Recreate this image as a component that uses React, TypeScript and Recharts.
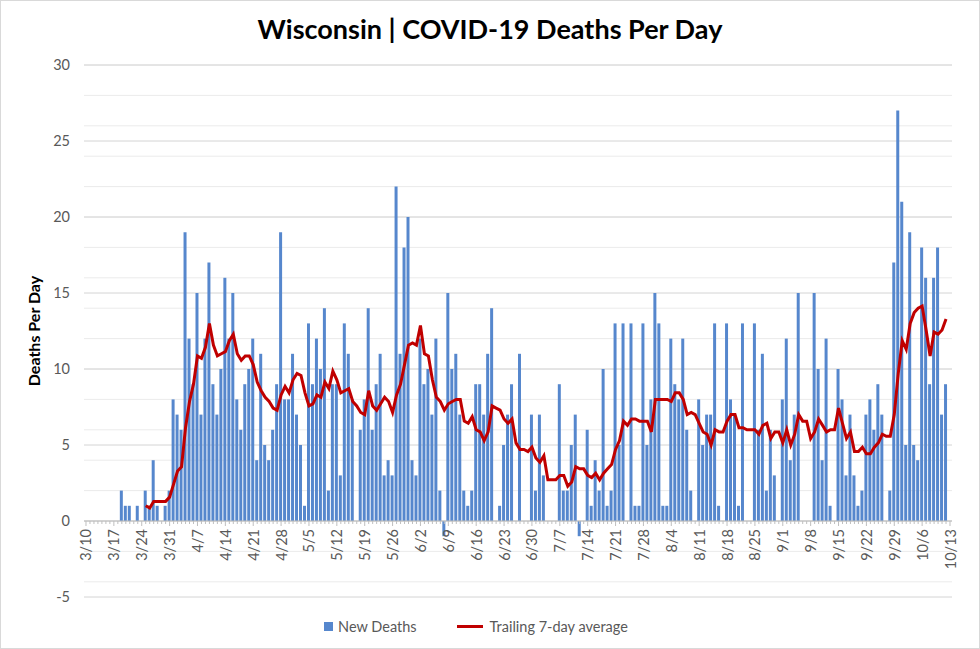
import { ComposedChart, Bar, Line, XAxis, YAxis, CartesianGrid, ReferenceLine, Legend } from 'recharts';

// Wisconsin daily COVID-19 deaths, 3/10 .. 10/13 (one row per week)
const newDeaths = [
  0, 0, 0, 0, 0, 0, 0,
  0, 0, 2, 1, 1, 0, 1,
  0, 2, 1, 4, 1, 0, 1,
  2, 8, 7, 6, 19, 12, 9,
  15, 7, 12, 17, 9, 7, 10,
  16, 12, 15, 8, 6, 9, 10,
  12, 4, 11, 5, 4, 6, 9,
  19, 8, 8, 11, 7, 5, 1,
  13, 9, 12, 10, 14, 2, 9,
  9, 3, 13, 11, 8, 0, 6,
  8, 14, 6, 9, 11, 3, 4,
  3, 22, 11, 18, 20, 4, 3,
  12, 9, 10, 7, 12, 2, -1,
  15, 10, 11, 7, 2, 1, 2,
  9, 9, 7, 11, 14, 0, 1,
  5, 7, 9, 0, 11, 0, 0,
  7, 2, 7, 3, 0, 0, 0,
  9, 2, 2, 5, 7, -1, 0,
  6, 1, 4, 2, 10, 1, 2,
  13, 5, 13, 0, 13, 1, 1,
  13, 5, 8, 15, 13, 1, 1,
  12, 9, 8, 12, 6, 2, 0,
  8, 5, 7, 7, 13, 1, 0,
  13, 8, 7, 1, 13, 0, 0,
  13, 6, 11, 2, 6, 3, 0,
  8, 12, 4, 7, 15, 0, 0,
  0, 15, 10, 4, 12, 1, 0,
  10, 8, 3, 7, 3, 1, 2,
  7, 8, 6, 9, 7, 0, 2,
  17, 27, 21, 5, 19, 5, 4,
  18, 16, 9, 16, 18, 7, 9,
  null,
];

const trailingAvg = [
  null, null, null, null, null, null, null,
  null, null, null, null, null, null, null,
  null, 1.0, 0.86, 1.29, 1.29, 1.29, 1.29,
  1.57, 2.43, 3.29, 3.57, 6.14, 7.86, 9.0,
  10.86, 10.71, 11.43, 13.0, 11.57, 10.86, 11.0,
  11.14, 11.86, 12.29, 11.0, 10.57, 10.86, 10.86,
  10.29, 9.14, 8.57, 8.14, 7.86, 7.43, 7.29,
  8.29, 8.86, 8.43, 9.29, 9.71, 9.57, 8.43,
  7.57, 7.71, 8.29, 8.14, 9.14, 8.71, 9.86,
  9.29, 8.43, 8.57, 8.71, 7.86, 7.57, 7.14,
  7.0, 8.57, 7.57, 7.29, 7.71, 8.14, 7.86,
  7.14, 8.29, 9.0, 10.29, 11.57, 11.71, 11.57,
  12.86, 11.0, 10.86, 9.29, 8.14, 7.86, 7.29,
  7.71, 7.86, 8.0, 8.0, 6.57, 6.43, 6.86,
  6.0, 5.86, 5.29, 5.86, 7.57, 7.43, 7.29,
  6.71, 6.43, 6.71, 5.14, 4.71, 4.71, 4.57,
  4.86, 4.14, 3.86, 4.29, 2.71, 2.71, 2.71,
  3.0, 3.0, 2.29, 2.57, 3.57, 3.43, 3.43,
  3.0, 2.86, 3.14, 2.71, 3.14, 3.43, 3.71,
  4.71, 5.29, 6.57, 6.29, 6.71, 6.71, 6.57,
  6.57, 6.57, 5.86, 8.0, 8.0, 8.0, 8.0,
  7.86, 8.43, 8.43, 8.0, 7.0, 7.14, 7.0,
  6.43, 5.86, 5.71, 5.0, 6.0, 5.86, 5.86,
  6.57, 7.0, 7.0, 6.14, 6.14, 6.0, 6.0,
  6.0, 5.71, 6.29, 6.43, 5.43, 5.86, 5.86,
  5.14, 6.0, 5.0, 5.71, 7.0, 6.57, 6.57,
  5.43, 5.86, 6.71, 6.29, 5.86, 6.0, 6.0,
  7.43, 6.43, 5.43, 5.86, 4.57, 4.57, 4.86,
  4.43, 4.43, 4.86, 5.14, 5.71, 5.57, 5.57,
  7.0, 9.71, 11.86, 11.29, 13.0, 13.71, 14.0,
  14.14, 12.57, 10.86, 12.43, 12.29, 12.57, 13.29,
  null,
];

const tickLabels = [
  '3/10', '3/17', '3/24', '3/31', '4/7', '4/14', '4/21', '4/28',
  '5/5', '5/12', '5/19', '5/26', '6/2', '6/9', '6/16', '6/23', '6/30',
  '7/7', '7/14', '7/21', '7/28', '8/4', '8/11', '8/18', '8/25',
  '9/1', '9/8', '9/15', '9/22', '9/29', '10/6', '10/13',
];

const yTicks = [-5, 0, 5, 10, 15, 20, 25, 30];
const yMinor = Array.from({ length: 36 }, (_, i) => i - 5);

const Y_MIN = -5;
const Y_MAX = 30;
const PLOT_TOP = 65;
const PLOT_BOTTOM = 597;
const ZERO_OFFSET = ((PLOT_BOTTOM - PLOT_TOP) * (0 - Y_MIN)) / (Y_MAX - Y_MIN);

const BAR_COLOR = '#5687cd';
const LINE_COLOR = '#c00000';
const TEXT_COLOR = '#595959';
const FONT = 'Lato, "Open Sans", sans-serif';

const data = newDeaths.map((v, i) => {
  const d = new Date(Date.UTC(2020, 2, 10 + i));
  return {
    date: `${d.getUTCMonth() + 1}/${d.getUTCDate()}`,
    deaths: v,
    avg: trailingAvg[i],
  };
});

function DateTick(props: any) {
  const { x, y, payload } = props;
  const zeroY = y - ZERO_OFFSET;
  const major = tickLabels.includes(payload.value);
  const ty = zeroY + 8;
  return (
    <g>
      <line x1={x} x2={x} y1={zeroY} y2={zeroY + (major ? 5 : 3)} stroke="#bfbfbf" />
      {major && (
        <text
          x={x}
          y={ty}
          transform={`rotate(-90 ${x} ${ty})`}
          textAnchor="end"
          dominantBaseline="central"
          fontSize={14.5}
          fill={TEXT_COLOR}
        >
          {payload.value}
        </text>
      )}
    </g>
  );
}

function LegendContent() {
  return (
    <div
      style={{
        height: 20,
        display: 'flex',
        justifyContent: 'center',
        alignItems: 'center',
        gap: 40,
        fontSize: 14.5,
        color: TEXT_COLOR,
        fontFamily: FONT,
      }}
    >
      <span style={{ display: 'flex', alignItems: 'center' }}>
        <span style={{ width: 9, height: 9, background: BAR_COLOR, marginRight: 5 }} />
        New Deaths
      </span>
      <span style={{ display: 'flex', alignItems: 'center' }}>
        <span style={{ width: 26, height: 3, background: LINE_COLOR, marginRight: 7 }} />
        Trailing 7-day average
      </span>
    </div>
  );
}

export default function App() {
  return (
    <div style={{ position: 'relative', width: 980, height: 649, background: '#fff', fontFamily: FONT }}>
      <style>{'body{margin:0}'}</style>
      <div
        style={{
          position: 'absolute',
          top: 12,
          left: 0,
          width: '100%',
          textAlign: 'center',
          fontSize: 27,
          fontWeight: 700,
          color: '#000',
        }}
      >
        Wisconsin | COVID-19 Deaths Per Day
      </div>
      <ComposedChart
        width={980}
        height={649}
        data={data}
        margin={{ top: PLOT_TOP, right: 28, bottom: 13, left: 0 }}
        barSize={3}
      >
        <CartesianGrid vertical={false} horizontalValues={yMinor} stroke="#ebebeb" />
        <CartesianGrid vertical={false} horizontalValues={yTicks} stroke="#d4d4d4" />
        <XAxis
          dataKey="date"
          interval={0}
          height={19}
          axisLine={false}
          tickLine={false}
          tickSize={0}
          tickMargin={0}
          tick={<DateTick />}
        />
        <YAxis
          domain={[Y_MIN, Y_MAX]}
          ticks={yTicks}
          width={84}
          axisLine={false}
          tickLine={false}
          tickSize={0}
          tickMargin={14}
          tick={{ fontSize: 14.5, fill: TEXT_COLOR }}
          label={{
            value: 'Deaths Per Day',
            angle: -90,
            position: 'insideLeft',
            offset: 34,
            style: { textAnchor: 'middle', fontWeight: 700, fontSize: 16, fill: '#000' },
          }}
        />
        <ReferenceLine y={0} stroke="#bfbfbf" />
        <Bar dataKey="deaths" fill={BAR_COLOR} isAnimationActive={false} />
        <Line
          dataKey="avg"
          type="linear"
          stroke={LINE_COLOR}
          strokeWidth={3}
          dot={false}
          isAnimationActive={false}
        />
        <Legend verticalAlign="bottom" content={<LegendContent />} />
      </ComposedChart>
      <div
        style={{
          position: 'absolute',
          inset: 0,
          border: '1px solid #d9d9d9',
          pointerEvents: 'none',
        }}
      />
    </div>
  );
}
